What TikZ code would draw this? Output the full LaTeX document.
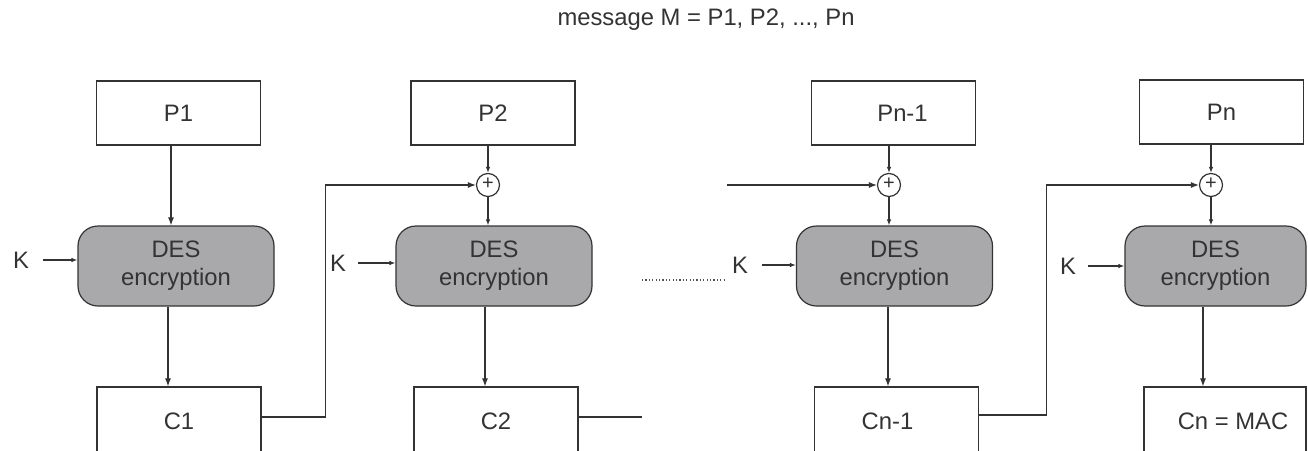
\documentclass[tikz,border=0pt]{standalone}
\usepackage{fontspec}
\setmainfont{Liberation Sans}
\usetikzlibrary{arrows.meta}
\definecolor{ink}{HTML}{333333}
\definecolor{desfill}{HTML}{A9A9AC}
\tikzset{
  lbl/.style={text=ink, inner sep=0pt, font=\fontsize{23.8}{28}\selectfont},
  box/.style={lbl, draw=ink, line width=1.2pt, minimum width=164pt, minimum height=64pt},
  cbox/.style={lbl, draw=ink, line width=1.2pt, minimum width=164pt, minimum height=68pt},
  des/.style={lbl, draw=ink, line width=1.2pt, fill=desfill, rounded corners=20pt,
    minimum width=196pt, minimum height=80pt, align=center},
  xor/.style={circle, draw=ink, line width=1.2pt, minimum size=23pt, inner sep=0pt,
    text=ink, font=\fontsize{20}{20}\selectfont},
  conn/.style={draw=ink, line width=1.1pt},
  arrM/.style={conn, -{Latex[length=8pt,width=6pt]}},
  arrS/.style={conn, -{Latex[length=6pt,width=4.5pt]}},
  dots/.style={draw=ink!85, line width=1.3pt, dash pattern=on 1.2pt off 2.2pt},
}
\begin{document}
\begin{tikzpicture}[x=1pt,y=-1pt]
\useasboundingbox (0,0) rectangle (1308,450);
\clip (0,0) rectangle (1308,450);

% title
\node[lbl] (title) at (706,20) {message M = P1, P2, ..., Pn};

% plaintext boxes
\node[box] (P1) at (178.5,113) {P1};
\node[box] (P2) at (493,113) {P2};
\node[box] (Pn1) at (893.5,113) {\hspace{18pt}Pn-1};
\node[box] (Pn) at (1221.5,112) {Pn};

% xor circles
\node[xor] (X2) at (488,185) {\raisebox{2pt}{+}};
\node[xor] (X3) at (889,185) {\raisebox{2pt}{+}};
\node[xor] (X4) at (1211,185) {\raisebox{2pt}{+}};

% DES blocks
\node[des] (D1) at (176,266) {DES\\encryption};
\node[des] (D2) at (494,266) {DES\\encryption};
\node[des] (D3) at (894.5,266) {DES\\encryption};
\node[des, minimum width=181pt] (D4) at (1215.5,266) {DES\\encryption};

% keys
\node[lbl] (K1) at (21,260) {K};
\node[lbl] (K2) at (338,263) {K};
\node[lbl] (K3) at (740,265) {K};
\node[lbl] (K4) at (1068,266) {K};

% ciphertext boxes
\node[cbox] (C1) at (179,421) {C1};
\node[cbox] (C2) at (496,421) {C2};
\node[cbox] (Cn1) at (896.5,421) {\hspace{-18pt}Cn-1};
\node[cbox, minimum width=162pt] (Cn) at (1225,421) {\hspace{16pt}Cn = MAC};

% free ends
\coordinate (in3) at (727,185);
\coordinate (out2) at (642,417);
\coordinate (dotA) at (642,280);
\coordinate (dotB) at (725,280);

% column 1
\draw[arrM] ([xshift=-7.5pt]P1.south) -- ([xshift=-7.5pt]P1.south |- D1.north);
\draw[arrM] ([xshift=-8pt]D1.south) -- ([xshift=-8pt]D1.south |- C1.north);
\draw[arrS] ([xshift=22pt]K1.center) -- (K1.center -| D1.west);
\draw[arrM] ([yshift=4pt]C1.east) -- ++(64,0) |- (X2.west);

% column 2
\draw[arrS] (P2.south -| X2.north) -- (X2.north);
\draw[arrS] (X2.south) -- (X2.south |- D2.north);
\draw[arrM] ([xshift=-9pt]D2.south) -- ([xshift=-9pt]D2.south |- C2.north);
\draw[arrS] ([xshift=20pt]K2.center) -- (K2.center -| D2.west);
\draw[conn] ([yshift=4pt]C2.east) -- (out2);

% gap
\draw[dots] (dotA) -- (dotB);
\draw[arrM] (in3) -- (X3.west);

% column 3
\draw[arrS] (Pn1.south -| X3.north) -- (X3.north);
\draw[arrS] (X3.south) -- (X3.south |- D3.north);
\draw[arrM] ([xshift=-6.5pt]D3.south) -- ([xshift=-6.5pt]D3.south |- Cn1.north);
\draw[arrS] ([xshift=22pt]K3.center) -- (K3.center -| D3.west);
\draw[arrM] ([yshift=6pt]Cn1.east) -- ++(67,0) |- (X4.west);

% column 4
\draw[arrS] (Pn.south -| X4.north) -- (X4.north);
\draw[arrS] (X4.south) -- (X4.south |- D4.north);
\draw[arrM] ([xshift=-12.5pt]D4.south) -- ([xshift=-12.5pt]D4.south |- Cn.north);
\draw[arrS] ([xshift=20pt]K4.center) -- (K4.center -| D4.west);
\end{tikzpicture}
\end{document}
